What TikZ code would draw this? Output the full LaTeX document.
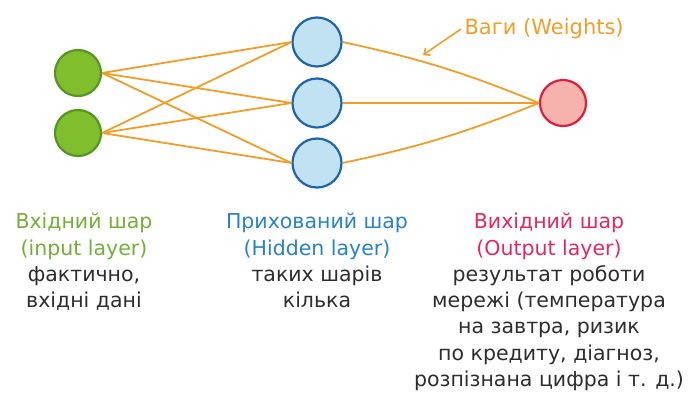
\documentclass[tikz,border=0pt]{standalone}
\usepackage{fontspec}
\setmainfont{DejaVu Sans}
\usepackage{xcolor}
\usetikzlibrary{arrows.meta}

\definecolor{ingreen}{RGB}{128,190,45}
\definecolor{indark}{RGB}{85,150,35}
\definecolor{hidfill}{RGB}{192,226,242}
\definecolor{hiddark}{RGB}{30,100,170}
\definecolor{outfill}{RGB}{246,178,172}
\definecolor{outdark}{RGB}{222,30,62}
\definecolor{weightcol}{RGB}{240,158,40}
\definecolor{ingtext}{RGB}{115,175,55}
\definecolor{hidtext}{RGB}{40,130,200}
\definecolor{outtext}{RGB}{226,40,95}
\definecolor{plaintext}{RGB}{45,45,45}

\tikzset{
    neuron/.style={circle,minimum size=46pt,inner sep=0pt,line width=2.2pt},
    weight/.style={draw=weightcol,line width=1.8pt},
    layertext/.style={align=center,anchor=north,inner sep=0pt,
        font=\fontsize{20.5}{26.3}\selectfont}
}

\begin{document}
\begin{tikzpicture}[x=1pt,y=-1pt]
        \useasboundingbox (0,0) rectangle (690,394);
        % Layers
        \node[neuron,fill=ingreen,draw=indark] (in1) at (78,73) {};
        \node[neuron,fill=ingreen,draw=indark] (in2) at (78,133) {};
        \node[neuron,fill=hidfill,draw=hiddark,minimum size=49pt] (hid1) at (317,42) {};
        \node[neuron,fill=hidfill,draw=hiddark,minimum size=49pt] (hid2) at (317,103) {};
        \node[neuron,fill=hidfill,draw=hiddark,minimum size=49pt] (hid3) at (317,163) {};
        \node[neuron,fill=outfill,draw=outdark] (out) at (563,103) {};

        % Weights
        \foreach \i in {1,2}{
            \foreach \h in {1,2,3}{
                \draw[weight] (in\i.east) -- (hid\h.west);
            }
        }
        \draw[weight] (hid1.east) to[bend left=5] (out.west);
        \draw[weight] (hid2.east) -- (out.west);
        \draw[weight] (hid3.east) to[bend right=5] (out.west);

        \node[text=weightcol,font=\fontsize{21}{24}\selectfont,anchor=west] (wlab) at (461,29) {Ваги (Weights)};
        \coordinate (wtip) at (423,55);
        \draw[draw=weightcol,line width=1.6pt,-{Straight Barb[length=5pt,width=9pt]}] (wlab.west) -- (wtip);

        % Labels
        \node[layertext] (inlab) at (84,213) {\textcolor{ingtext}{Вхідний шар}\\\textcolor{ingtext}{(input layer)}\\\textcolor{plaintext}{фактично,}\\\textcolor{plaintext}{вхідні дані}};
        \node[layertext] (hidlab) at (317,213) {\textcolor{hidtext}{Прихований шар}\\\textcolor{hidtext}{(Hidden layer)}\\\textcolor{plaintext}{таких шарів}\\\textcolor{plaintext}{кілька}};
        \node[layertext] (outlab) at (549,213) {\textcolor{outtext}{Вихідний шар}\\\textcolor{outtext}{(Output layer)}\\\textcolor{plaintext}{результат роботи}\\\textcolor{plaintext}{мережі (температура}\\\textcolor{plaintext}{на завтра, ризик}\\\textcolor{plaintext}{по кредиту, діагноз,}\\\textcolor{plaintext}{розпізнана цифра і т. д.)}};
\end{tikzpicture}
\end{document}
